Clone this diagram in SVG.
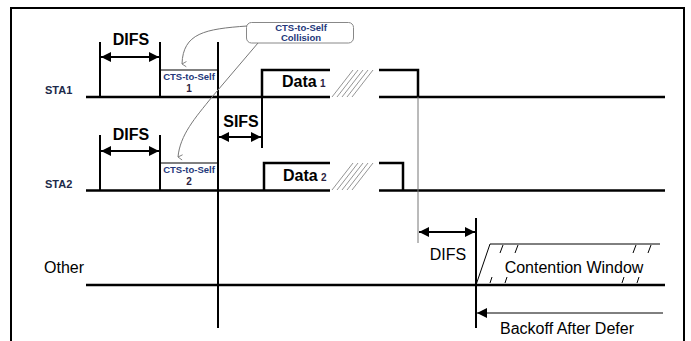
<svg xmlns="http://www.w3.org/2000/svg" width="691" height="341" viewBox="0 0 691 341">
<style>
.frame{fill:none;stroke:#000;stroke-width:2}
.base{fill:none;stroke:#000;stroke-width:2.5}
.v{fill:none;stroke:#000;stroke-width:2}
.thin{fill:none;stroke:#000;stroke-width:1}
.gray{fill:none;stroke:#777;stroke-width:1}
.hatch{fill:none;stroke:#888;stroke-width:0.9}
.lbl{font-family:"Liberation Sans",Arial,sans-serif;font-size:16px;fill:#000}
.lblb{font-family:"Liberation Sans",Arial,sans-serif;font-size:16px;font-weight:bold;fill:#000}
.sta{font-family:"Liberation Sans",Arial,sans-serif;font-size:11px;font-weight:bold;fill:#1c2a4a}
.cts{font-family:"Liberation Sans",Arial,sans-serif;font-size:9.5px;font-weight:bold;fill:#24387a}
.num{font-family:"Liberation Sans",Arial,sans-serif;font-size:10px;font-weight:bold;fill:#2b2340}
</style>
<defs>
<marker id="ah" viewBox="0 0 10 10" refX="10" refY="5" markerWidth="10" markerHeight="10" markerUnits="userSpaceOnUse" orient="auto-start-reverse">
<path d="M0,0 L10,5 L0,10 z" fill="#000"/>
</marker>
<marker id="gh" viewBox="0 0 8 8" refX="4" refY="7" markerWidth="7" markerHeight="7" markerUnits="userSpaceOnUse" orient="auto">
<path d="M1,2 L4,7 L7,2" fill="none" stroke="#777" stroke-width="1"/>
</marker>
</defs>
<rect width="691" height="341" fill="#fff"/>
<path class="frame" d="M11,341 V8 H684 V341"/>

<g id="labels">
<text class="sta" x="45" y="94">STA1</text>
<text class="sta" x="45" y="188">STA2</text>
<text class="lbl" x="44" y="273">Other</text>
</g>

<g id="sta1">
<path class="base" d="M86,97 H330"/>
<path class="base" d="M379,97 H665"/>
<path class="base" d="M262,97 V70 H330"/>
<path class="base" d="M379,70 H418 V97"/>
<g class="hatch">
<line x1="332" y1="97" x2="353" y2="70"/>
<line x1="337" y1="97" x2="358" y2="70"/>
<line x1="342" y1="97" x2="363" y2="70"/>
<line x1="347" y1="97" x2="368" y2="70"/>
<line x1="352" y1="97" x2="373" y2="70"/>
</g>
<text class="lblb" x="282" y="87">Data</text>
<text class="num" x="320" y="87">1</text>
</g>

<g id="cts1">
<line class="thin" x1="160" y1="70" x2="218" y2="70"/>
<text class="cts" x="189" y="80" text-anchor="middle">CTS-to-Self</text>
<text class="num" x="189" y="92" text-anchor="middle">1</text>
</g>

<g id="sta2">
<path class="base" d="M86,190.5 H330"/>
<path class="base" d="M379,190.5 H665"/>
<path class="base" d="M264,190.5 V163 H330"/>
<path class="base" d="M379,163 H403 V190.5"/>
<g class="hatch">
<line x1="332" y1="190" x2="353" y2="163"/>
<line x1="337" y1="190" x2="358" y2="163"/>
<line x1="342" y1="190" x2="363" y2="163"/>
<line x1="347" y1="190" x2="368" y2="163"/>
<line x1="352" y1="190" x2="373" y2="163"/>
</g>
<text class="lblb" x="283" y="181">Data</text>
<text class="num" x="321" y="181">2</text>
</g>

<g id="cts2">
<line class="thin" x1="160" y1="163" x2="218" y2="163"/>
<text class="cts" x="189" y="173" text-anchor="middle">CTS-to-Self</text>
<text class="num" x="189" y="185" text-anchor="middle">2</text>
</g>

<g id="other">
<path class="base" d="M86,285 H665"/>
<path class="thin" d="M476,285 L490,244 H660"/>
<g class="thin" stroke-width="0.9">
<line x1="500" y1="253" x2="503" y2="245"/>
<line x1="515" y1="253" x2="518" y2="245"/>
<line x1="633" y1="253" x2="636" y2="245"/>
<line x1="648" y1="253" x2="651" y2="245"/>
<line x1="490" y1="283" x2="492" y2="277"/>
<line x1="505" y1="283" x2="507" y2="277"/>
<line x1="622" y1="283" x2="624" y2="277"/>
<line x1="637" y1="283" x2="639" y2="277"/>
</g>
<text class="lbl" x="574" y="273" text-anchor="middle">Contention Window</text>
</g>

<g id="callout">
<rect x="246.5" y="22.5" width="107" height="20.5" rx="5" fill="#fff" stroke="#888" stroke-width="1"/>
<text class="cts" x="301" y="30.5" text-anchor="middle">CTS-to-Self</text>
<text class="cts" x="301" y="41" text-anchor="middle">Collision</text>
</g>

<g id="connectors">
<line class="v" x1="100" y1="42" x2="100" y2="97"/>
<line class="v" x1="160" y1="42" x2="160" y2="97"/>
<line class="v" x1="101" y1="57" x2="159" y2="57" marker-start="url(#ah)" marker-end="url(#ah)"/>
<text class="lblb" x="131" y="45" text-anchor="middle">DIFS</text>
<line class="v" x1="100" y1="135" x2="100" y2="190"/>
<line class="v" x1="160" y1="135" x2="160" y2="190"/>
<line class="v" x1="101" y1="151" x2="159" y2="151" marker-start="url(#ah)" marker-end="url(#ah)"/>
<text class="lblb" x="131" y="140" text-anchor="middle">DIFS</text>
<line class="v" x1="218" y1="42" x2="218" y2="328"/>
<line class="v" x1="262" y1="70" x2="262" y2="148"/>
<line class="v" x1="219" y1="137" x2="261" y2="137" marker-start="url(#ah)" marker-end="url(#ah)"/>
<text class="lblb" x="241" y="127" text-anchor="middle">SIFS</text>
<line class="gray" x1="418" y1="97" x2="418" y2="243"/>
<line class="v" x1="476" y1="218" x2="476" y2="328"/>
<line class="v" x1="419" y1="232" x2="475" y2="232" marker-start="url(#ah)" marker-end="url(#ah)"/>
<text class="lbl" x="448" y="260" text-anchor="middle">DIFS</text>
<line class="thin" x1="663" y1="313" x2="477" y2="313" stroke-width="1.5" marker-end="url(#ah)"/>
<text class="lbl" x="567" y="334" text-anchor="middle">Backoff After Defer</text>
<path class="gray" d="M247,26 C205,29 183,33 182,64" marker-end="url(#gh)"/>
<path class="gray" d="M258,43 L212,97 C195,118 180,135 178,157" marker-end="url(#gh)"/>
</g>
</svg>
